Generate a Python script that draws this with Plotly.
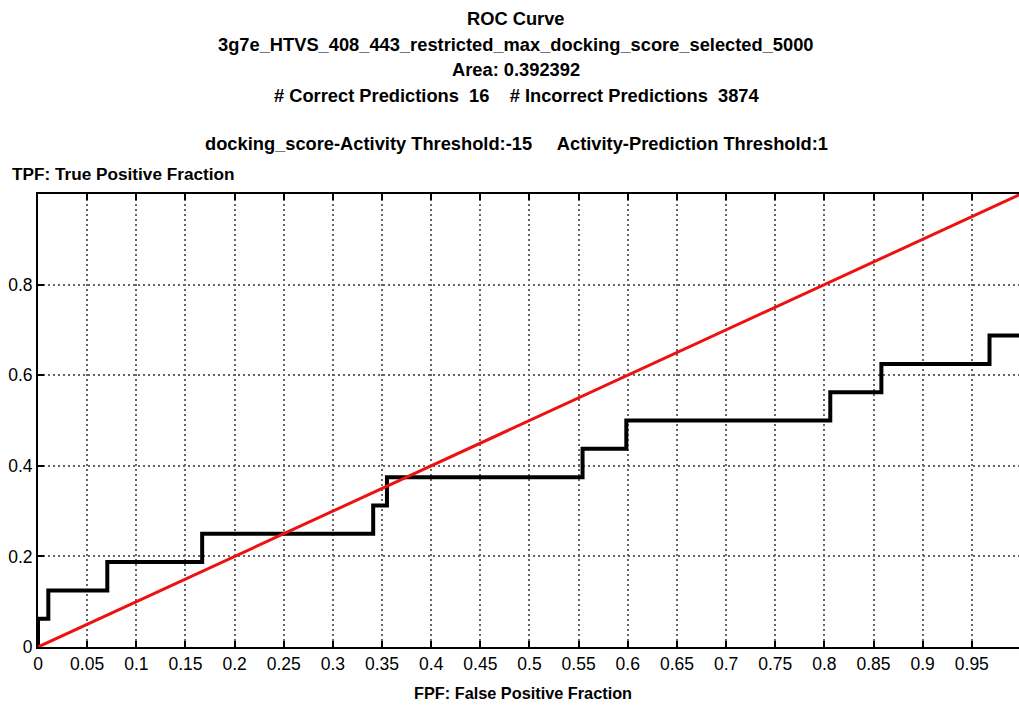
import plotly.graph_objects as go

# ROC step curve: false positive fraction vs true positive fraction (16 actives -> steps of 1/16)
fpf = [0.0, 0.0, 0.0105, 0.0105, 0.0705, 0.0705, 0.167, 0.167, 0.341, 0.341,
       0.355, 0.355, 0.554, 0.554, 0.5985, 0.5985, 0.806, 0.806, 0.858, 0.858,
       0.968, 0.968, 1.0]
tpf = [0.0, 0.0625, 0.0625, 0.125, 0.125, 0.1875, 0.1875, 0.25, 0.25, 0.3125,
       0.3125, 0.375, 0.375, 0.4375, 0.4375, 0.5, 0.5, 0.5625, 0.5625, 0.625,
       0.625, 0.6875, 0.6875]

# random-classifier diagonal
diag_x = [0.0, 1.0]
diag_y = [0.0, 1.0]

x_ticks = [0, 0.05, 0.1, 0.15, 0.2, 0.25, 0.3, 0.35, 0.4, 0.45, 0.5,
           0.55, 0.6, 0.65, 0.7, 0.75, 0.8, 0.85, 0.9, 0.95]
x_tick_text = ["0", "0.05", "0.1", "0.15", "0.2", "0.25", "0.3", "0.35", "0.4", "0.45",
               "0.5", "0.55", "0.6", "0.65", "0.7", "0.75", "0.8", "0.85", "0.9", "0.95"]
y_ticks = [0, 0.2, 0.4, 0.6, 0.8, 1.0]
y_tick_text = ["0", "0.2", "0.4", "0.6", "0.8", ""]

title_lines = [
    "ROC Curve",
    "3g7e_HTVS_408_443_restricted_max_docking_score_selected_5000",
    "Area: 0.392392",
    "# Correct Predictions  16    # Incorrect Predictions  3874",
    "docking_score-Activity Threshold:-15     Activity-Prediction Threshold:1",
]
title_y_px = [18, 44, 70, 95, 143]

W, H = 1019, 706
L, R, T, B = 38, 0, 194, 59
PW, PH = W - L - R, H - T - B
FONT = "Liberation Sans, Arial, sans-serif"


def px_to_paper(xpx, ypx):
    # paper coordinates are relative to the plotting area
    return (xpx - L) / PW, (H - B - ypx) / PH


fig = go.Figure()
fig.add_trace(go.Scatter(x=fpf, y=tpf, mode="lines",
                         line=dict(color="black", width=4), showlegend=False))
fig.add_trace(go.Scatter(x=diag_x, y=diag_y, mode="lines",
                         line=dict(color="#ee1111", width=3), showlegend=False))

axis_common = dict(
    showgrid=True, gridcolor="#666666", gridwidth=2, griddash="2px,3px",
    showline=True, linecolor="black", linewidth=2,
    ticks="inside", ticklen=6, tickwidth=1.5, tickcolor="black",
    zeroline=False, tickfont=dict(family=FONT, size=17.5, color="black"),
)

fig.update_xaxes(range=[0, 0.998], tickvals=x_ticks, ticktext=x_tick_text,
                 mirror="ticks", **axis_common)
fig.update_yaxes(range=[0, 1], tickvals=y_ticks, ticktext=y_tick_text,
                 mirror=False, ticklabelstandoff=0, **axis_common)

annotations = []
for text, ypx in zip(title_lines, title_y_px):
    ax, ay = px_to_paper(516, ypx)
    annotations.append(dict(text="<b>%s</b>" % text, x=ax, y=ay,
                            xref="paper", yref="paper", xanchor="center", yanchor="middle",
                            showarrow=False, font=dict(family=FONT, size=18.3, color="black")))
ax, ay = px_to_paper(10, 174)
annotations.append(dict(text="<b>TPF: True Positive Fraction</b>", x=ax, y=ay,
                        xref="paper", yref="paper", xanchor="left", yanchor="middle",
                        showarrow=False, font=dict(family=FONT, size=17.2, color="black")))
ax, ay = px_to_paper(523, 693)
annotations.append(dict(text="<b>FPF: False Positive Fraction</b>", x=ax, y=ay,
                        xref="paper", yref="paper", xanchor="center", yanchor="middle",
                        showarrow=False, font=dict(family=FONT, size=16.3, color="black")))

fig.update_layout(
    width=W, height=H,
    margin=dict(l=L, r=R, t=T, b=B),
    paper_bgcolor="white", plot_bgcolor="white",
    annotations=annotations,
)

fig.write_html("out.html")
